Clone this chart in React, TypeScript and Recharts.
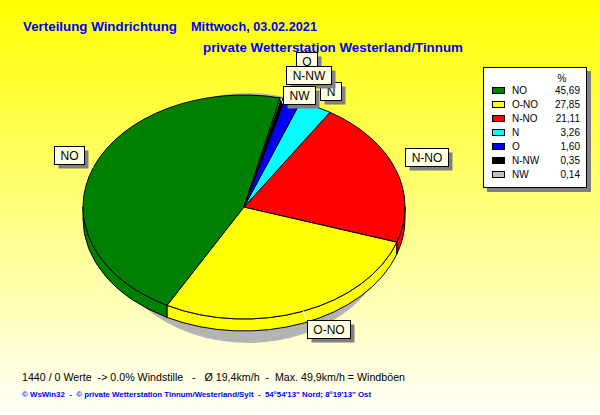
import React from 'react';
import { PieChart, Pie, Legend } from 'recharts';

// wind direction shares in percent, one day of data
const DIRECTIONS = ['NO', 'O-NO', 'N-NO', 'N', 'O', 'N-NW', 'NW'];
const SHARES = [45.69, 27.85, 21.11, 3.26, 1.6, 0.35, 0.14];
const COLORS = ['#008000', '#ffff00', '#ff0000', '#00ffff', '#0000ff', '#000000', '#c0c0c0'];

const TITLE = 'Verteilung Windrichtung';
const DAY = 'Mittwoch, 03.02.2021';
const STATION = 'private Wetterstation Westerland/Tinnum';
const SUMMARY = '1440 / 0 Werte  -> 0.0% Windstille   -   Ø 19,4km/h  -  Max. 49,9km/h = Windböen';
const FOOTER = '© WsWin32  -  © private Wetterstation Tinnum/Westerland/Sylt  -  54°54\'13" Nord; 8°19\'13" Ost';

const pieData = DIRECTIONS.map((name, i) => ({ name, value: SHARES[i] }));

const W = 600;
const H = 415;
const CX = 244;
const CY = 207;
const RX = 161;
const RY = 112;
const DEPTH = 12;
const START = 77;
const SQUASH = RY / RX;
const RAD = Math.PI / 180;
const FONT = '"Liberation Sans", Arial, sans-serif';

// small slices near the top get stacked like in the original
const LABEL_SHIFT: Record<string, number> = { N: 2, O: -20.5, 'N-NW': -5, NW: 16 };
const CHAR_W: Record<string, number> = { N: 8.67, O: 9.34, W: 11.33, '-': 4 };

const textWidth = (s: string) => s.split('').reduce((a, ch) => a + (CHAR_W[ch] ?? 8), 0);

// elliptical 3d slice, drawn from the angles recharts computed
function SliceShape(props: any) {
  const { cx, cy, outerRadius, startAngle, endAngle, index } = props;
  const ry = outerRadius * SQUASH;
  const pt = (a: number, dy = 0) =>
    `${(cx + outerRadius * Math.cos(a * RAD)).toFixed(2)},${(cy - ry * Math.sin(a * RAD) + dy).toFixed(2)}`;
  const lo = Math.min(startAngle, endAngle);
  const hi = Math.max(startAngle, endAngle);
  const fill = COLORS[index];

  const walls: string[] = [];
  for (const [a, b] of [[180, 360], [540, 720]]) {
    const s = Math.max(lo, a);
    const e = Math.min(hi, b);
    if (e > s) {
      walls.push(
        `M${pt(s)} A${outerRadius},${ry} 0 0 0 ${pt(e)} L${pt(e, DEPTH)} A${outerRadius},${ry} 0 0 1 ${pt(s, DEPTH)} Z`
      );
    }
  }
  const large = hi - lo > 180 ? 1 : 0;
  const top = `M${cx},${cy} L${pt(lo)} A${outerRadius},${ry} 0 ${large} 0 ${pt(hi)} Z`;

  return (
    <g>
      {walls.map((d, i) => (
        <path key={i} d={d} fill={fill} stroke="#000000" strokeWidth={1} />
      ))}
      <path d={top} fill={fill} stroke="#000000" strokeWidth={1} strokeLinejoin="round" />
    </g>
  );
}

function BoxLabel(props: any) {
  const { cx, cy, outerRadius, startAngle, endAngle, name } = props;
  const mid = (startAngle + endAngle) / 2;
  const c = Math.cos(mid * RAD);
  const s = Math.sin(mid * RAD);
  const px = cx + outerRadius * c;
  const py = cy - outerRadius * SQUASH * s;
  const ax = px + 10 * c;
  const ay = py - 10 * s + (LABEL_SHIFT[name] ?? 0);
  const w = Math.round(textWidth(name) + 12);
  const h = 18;
  const x = Math.round(c >= 0 ? ax : ax - w) + 0.5;
  const y = Math.round(s >= 0 ? ay - h : ay) + 0.5;

  return (
    <g>
      <line x1={px} y1={py} x2={ax} y2={ay} stroke="#ffffff" strokeWidth={1} />
      <rect x={x + 4} y={y + 4} width={w} height={h} fill="#808080" />
      <rect x={x} y={y} width={w} height={h} fill="#ffffe1" stroke="#000000" strokeWidth={1} />
      <text x={x + w / 2} y={y + h / 2 + 4.5} textAnchor="middle" fontSize={12} fontFamily={FONT} fill="#000000">
        {name}
      </text>
    </g>
  );
}

function WindLegend() {
  return (
    <svg width={110} height={128} style={{ display: 'block' }}>
      <rect x={4} y={4} width={104} height={121} fill="#808080" />
      <rect x={0.5} y={0.5} width={103} height={120} fill="#ffffff" stroke="#000000" />
      <text x={79} y={15} textAnchor="middle" fontSize={10} fontFamily={FONT} fill="#000000">%</text>
      {DIRECTIONS.map((name, i) => {
        const yc = 23 + i * 14;
        return (
          <g key={name}>
            <rect x={9.5} y={yc - 3 + 0.5} width={12} height={6} fill={COLORS[i]} stroke="#000000" />
            <text x={29} y={yc + 3.5} fontSize={10} fontFamily={FONT} fill="#000000">{name}</text>
            <text x={97} y={yc + 3.5} textAnchor="end" fontSize={10} fontFamily={FONT} fill="#000000">
              {SHARES[i].toFixed(2).replace('.', ',')}
            </text>
          </g>
        );
      })}
    </svg>
  );
}

export default function App() {
  return (
    <div
      style={{
        position: 'fixed',
        left: 0,
        top: 0,
        width: W,
        height: H,
        overflow: 'hidden',
        background: 'linear-gradient(to bottom, #ffff00 0%, #fffffa 100%)',
      }}
    >
      <svg width={W} height={H} style={{ position: 'absolute', left: 0, top: 0 }}>
        <ellipse cx={248} cy={218} rx={148} ry={125} fill="#b4b4b4" />
      </svg>

      <div style={{ position: 'absolute', left: 0, top: 0 }}>
        <PieChart width={W} height={H} margin={{ top: 0, right: 0, bottom: 0, left: 0 }}>
          <Pie
            data={pieData}
            dataKey="value"
            nameKey="name"
            cx={CX}
            cy={CY}
            outerRadius={RX}
            startAngle={START}
            endAngle={START + 360}
            fill="transparent"
            stroke="none"
            label={SliceShape}
            labelLine={false}
            isAnimationActive={false}
          />
          <Pie
            data={pieData}
            dataKey="value"
            nameKey="name"
            cx={CX}
            cy={CY}
            outerRadius={RX}
            startAngle={START}
            endAngle={START + 360}
            fill="transparent"
            stroke="none"
            label={BoxLabel}
            labelLine={false}
            legendType="none"
            isAnimationActive={false}
          />
          <Legend
            layout="vertical"
            align="right"
            verticalAlign="top"
            width={110}
            height={128}
            content={() => <WindLegend />}
            wrapperStyle={{ left: 483, top: 67 }}
          />
        </PieChart>
      </div>

      <svg width={W} height={H} style={{ position: 'absolute', left: 0, top: 0, pointerEvents: 'none' }}>
        <g fontFamily={FONT} fontWeight="bold" fontSize={13} fill="#0000ff">
          <text x={23} y={31} textLength={154} lengthAdjust="spacingAndGlyphs">{TITLE}</text>
          <text x={191} y={31} textLength={126} lengthAdjust="spacingAndGlyphs">{DAY}</text>
          <text x={203} y={52} textLength={260} lengthAdjust="spacingAndGlyphs">{STATION}</text>
        </g>
        <text
          x={22}
          y={381}
          fontFamily={FONT}
          fontSize={11}
          fill="#000000"
          xmlSpace="preserve"
          style={{ whiteSpace: 'pre' }}
          textLength={383}
          lengthAdjust="spacingAndGlyphs"
        >
          {SUMMARY}
        </text>
        <text
          x={22}
          y={397}
          fontFamily={FONT}
          fontSize={8}
          fontWeight="bold"
          fill="#0000ff"
          xmlSpace="preserve"
          style={{ whiteSpace: 'pre' }}
          textLength={349}
          lengthAdjust="spacingAndGlyphs"
        >
          {FOOTER}
        </text>
      </svg>
    </div>
  );
}
